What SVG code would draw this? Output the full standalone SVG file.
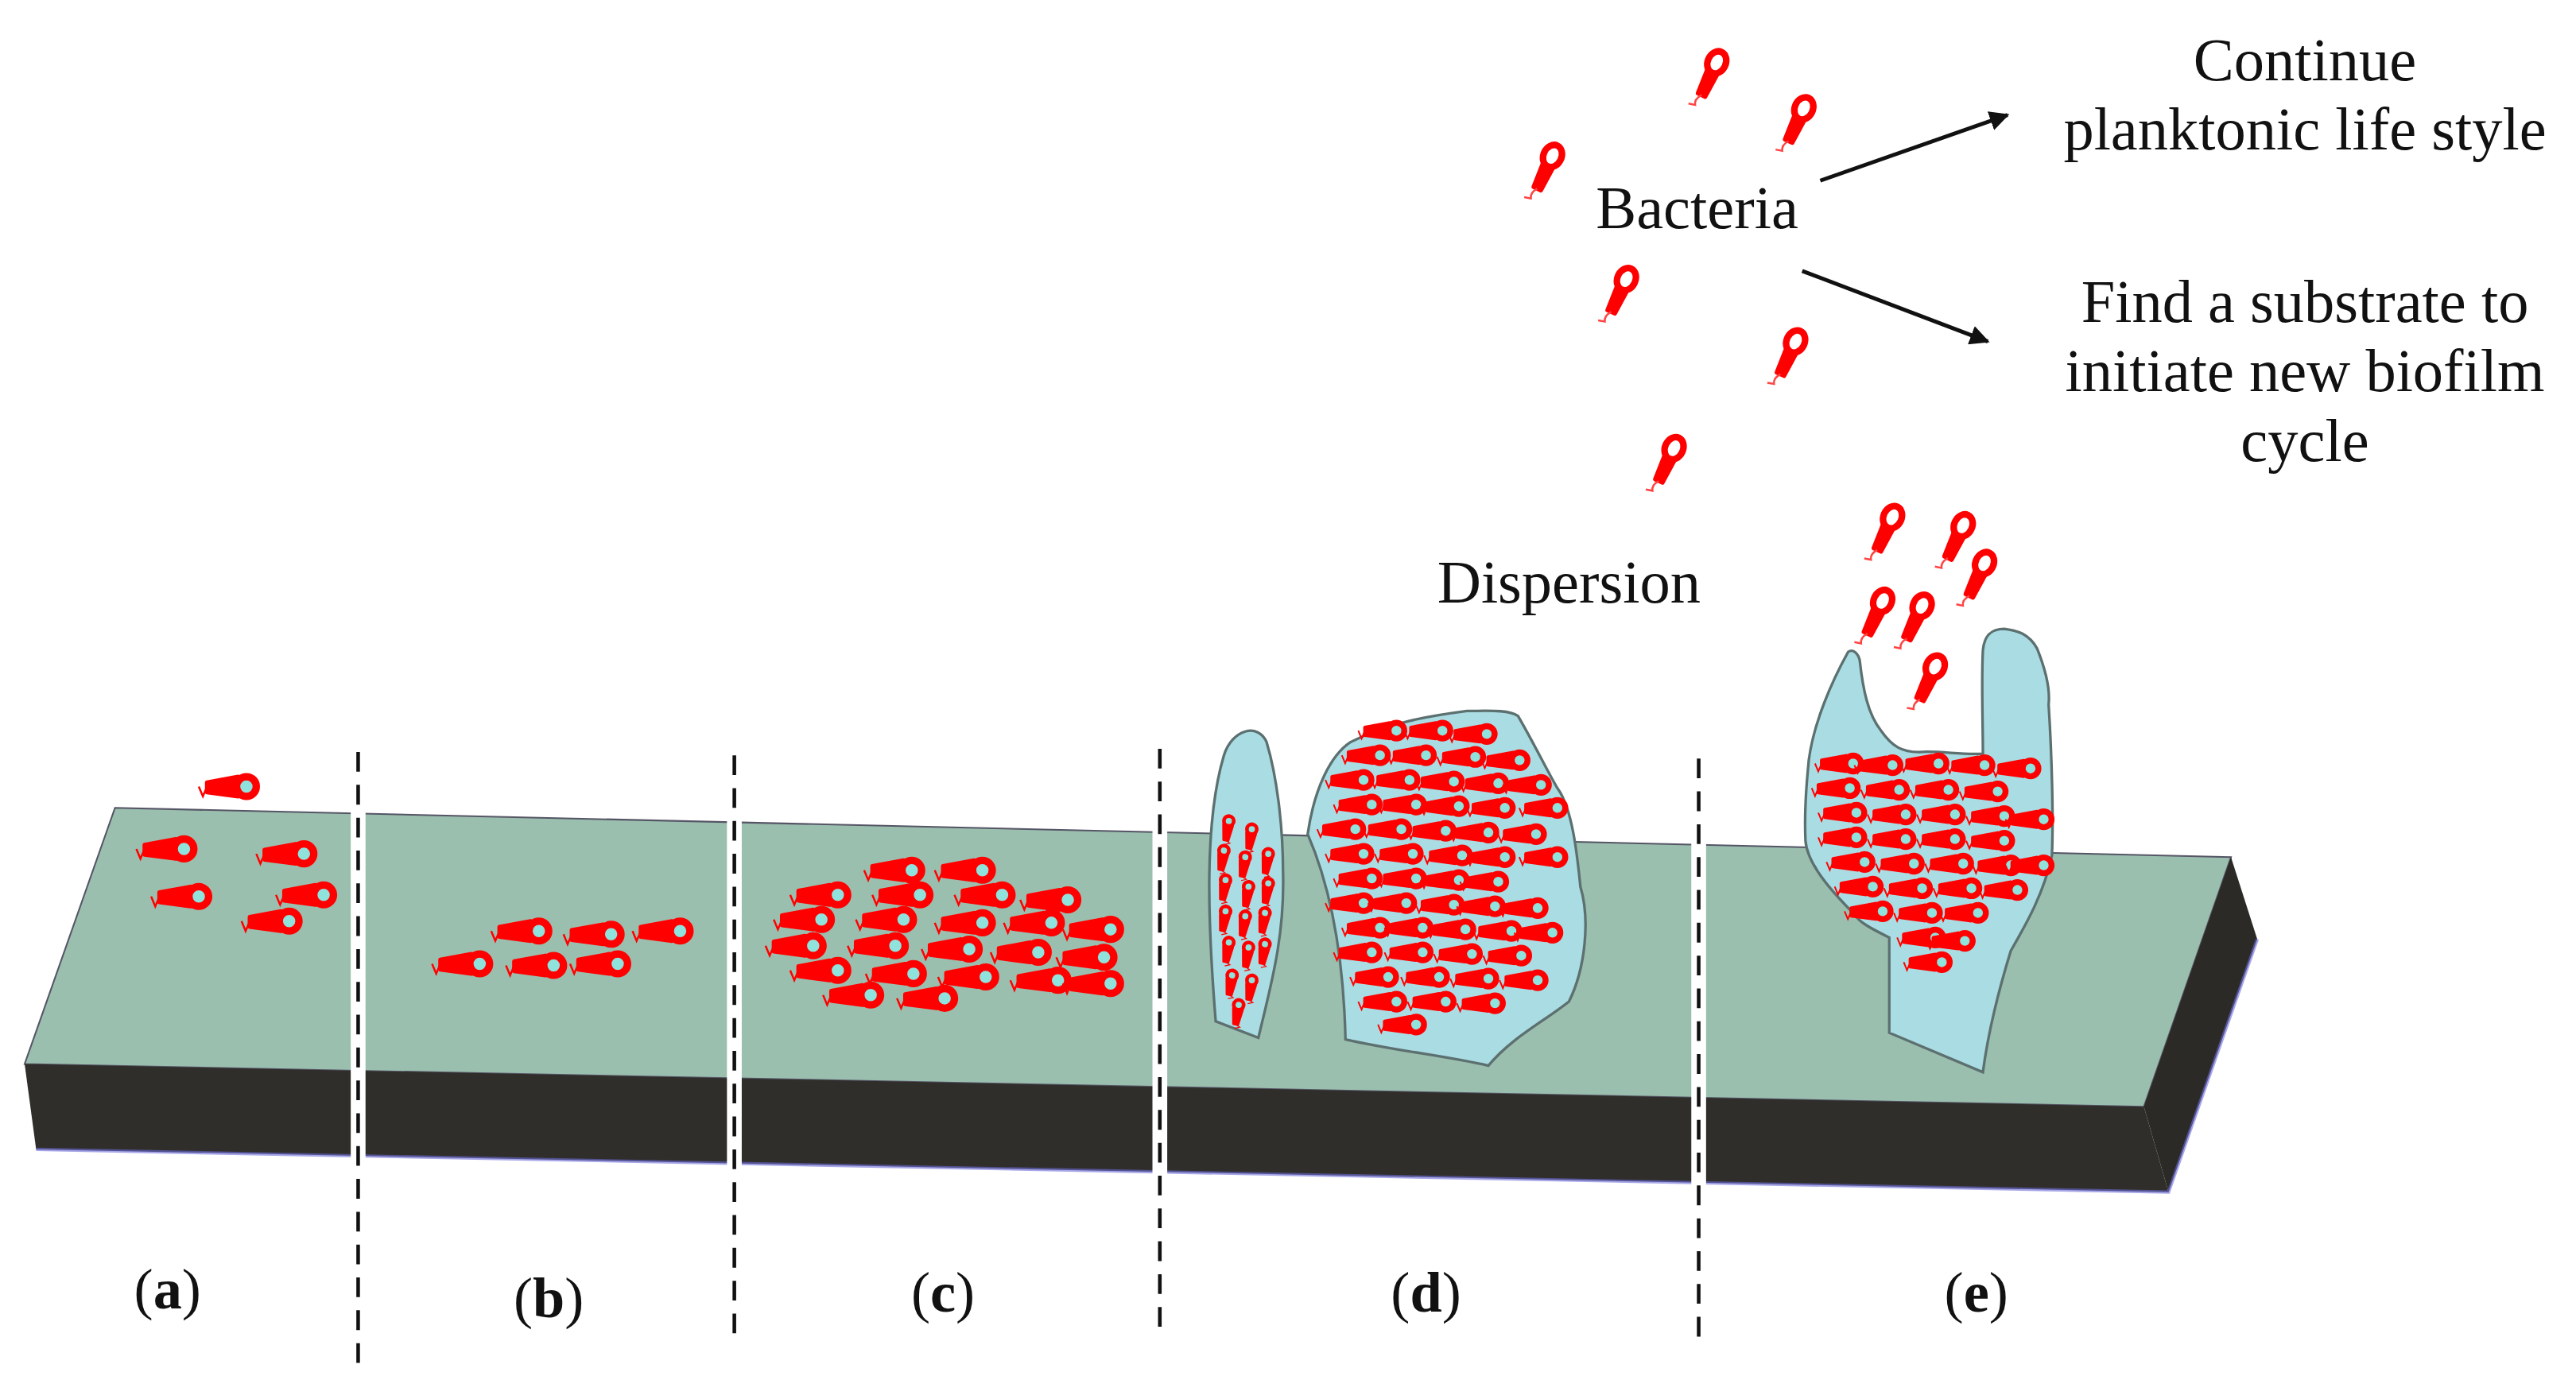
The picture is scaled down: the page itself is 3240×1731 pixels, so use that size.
<svg xmlns="http://www.w3.org/2000/svg" xmlns:xlink="http://www.w3.org/1999/xlink" width="3240" height="1731" viewBox="0 0 3240 1731">
<style>
.t{font-family:"Liberation Serif","DejaVu Serif",serif;font-size:37px;fill:#111;text-anchor:middle}
.lb{font-family:"Liberation Serif","DejaVu Serif",serif;font-size:35px;fill:#111;text-anchor:middle}
.lb tspan.b{font-weight:bold}
.film{fill:#a9dde3;stroke:#5d7070;stroke-width:1.6}
.dash{stroke:#111;stroke-width:2.2;stroke-dasharray:12,8}
.gap{stroke:#fff;stroke-width:9}
.arr{stroke:#111;stroke-width:2.4;fill:none}
</style>
<defs>
<g id="hb">
<path d="M-29,0 l2.5,6 l3,-7" stroke="#f00" stroke-width="1.2" fill="none"/>
<path d="M-24,-2.5 L-5,-6 L-5,6 L-24,3.5 Z" fill="#f00" stroke="#f00" stroke-width="2.5" stroke-linejoin="round"/>
<circle r="6" fill="#8fe3dc" stroke="#f00" stroke-width="4.5"/>
</g>
<g id="fb">
<path d="M-3.5,5 L3.5,5 L2.5,22 L-2.5,22 Z" fill="#f00" stroke="#f00" stroke-width="2.5" stroke-linejoin="round"/>
<path d="M0,22 q-3,4 -1,7 l-4,1" stroke="#f44" stroke-width="1.2" fill="none"/>
<ellipse rx="5.5" ry="7" fill="#fff" stroke="#f00" stroke-width="4"/>
</g>
<marker id="ah" viewBox="0 0 10 10" refX="9" refY="5" markerWidth="5" markerHeight="5" orient="auto"><path d="M0,0 L10,5 L0,10 Z" fill="#111"/></marker>
</defs>
<rect width="3240" height="1731" fill="#fff"/>
<g transform="scale(2.0663,2.0656)">
<g id="slab">
<path d="M70,492 L1358,522 L1305,674 L15,648 Z" fill="#9bbfae" stroke="#556" stroke-width="1"/>
<path d="M15,648 L1305,674 L1320,726 L22,700 Z" fill="#302e2a"/>
<path d="M1305,674 L1358,522 L1374,572 L1320,726 Z" fill="#2b2a26"/>
<path d="M22,700 L1320,726 L1374,572" fill="none" stroke="#6a6ad8" stroke-width="2" opacity="0.6"/>
</g>
<g id="stage-a">
<use xlink:href="#hb" x="150" y="479"/>
<use xlink:href="#hb" x="112" y="517"/>
<use xlink:href="#hb" x="185" y="520"/>
<use xlink:href="#hb" x="121" y="546"/>
<use xlink:href="#hb" x="197" y="545"/>
<use xlink:href="#hb" x="176" y="561"/>
</g>
<g id="stage-b">
<use xlink:href="#hb" x="328" y="567"/>
<use xlink:href="#hb" x="372" y="569"/>
<use xlink:href="#hb" x="414" y="567"/>
<use xlink:href="#hb" x="292" y="587"/>
<use xlink:href="#hb" x="337" y="588"/>
<use xlink:href="#hb" x="376" y="587"/>
</g>
<g id="stage-c">
<use xlink:href="#hb" x="555" y="530"/><use xlink:href="#hb" x="598" y="530"/>
<use xlink:href="#hb" x="510" y="545"/><use xlink:href="#hb" x="560" y="545"/><use xlink:href="#hb" x="610" y="545"/><use xlink:href="#hb" x="650" y="548"/>
<use xlink:href="#hb" x="500" y="560"/><use xlink:href="#hb" x="550" y="560"/><use xlink:href="#hb" x="598" y="562"/><use xlink:href="#hb" x="640" y="562"/><use xlink:href="#hb" x="676" y="566"/>
<use xlink:href="#hb" x="495" y="576"/><use xlink:href="#hb" x="545" y="576"/><use xlink:href="#hb" x="590" y="578"/><use xlink:href="#hb" x="632" y="580"/><use xlink:href="#hb" x="672" y="583"/>
<use xlink:href="#hb" x="510" y="591"/><use xlink:href="#hb" x="556" y="593"/><use xlink:href="#hb" x="600" y="595"/><use xlink:href="#hb" x="644" y="597"/><use xlink:href="#hb" x="676" y="599"/>
<use xlink:href="#hb" x="530" y="606"/><use xlink:href="#hb" x="575" y="608"/>
</g>
<g id="stage-d">
<path class="film" d="M740,622 C735,560 733,500 745,460 C750,444 766,440 771,452 C777,472 781,502 781,532 C782,572 773,602 766,632 Z"/>
<path class="film" d="M819,633 C818,590 812,545 796,508 C800,480 810,460 822,452 C845,440 870,436 893,433 C905,433 918,432 924,436 C935,455 942,470 948,480 C957,492 960,520 962,540 C968,560 965,590 955,610 C940,622 920,632 906,649 C880,643 850,640 819,633 Z"/>
<g id="d1">
<use xlink:href="#hb" transform="translate(748,500) rotate(-80) scale(0.5)"/><use xlink:href="#hb" transform="translate(762,505) rotate(-80) scale(0.5)"/>
<use xlink:href="#hb" transform="translate(745,518) rotate(-80) scale(0.5)"/><use xlink:href="#hb" transform="translate(758,522) rotate(-80) scale(0.5)"/><use xlink:href="#hb" transform="translate(772,520) rotate(-80) scale(0.5)"/>
<use xlink:href="#hb" transform="translate(746,536) rotate(-80) scale(0.5)"/><use xlink:href="#hb" transform="translate(760,540) rotate(-80) scale(0.5)"/><use xlink:href="#hb" transform="translate(772,538) rotate(-80) scale(0.5)"/>
<use xlink:href="#hb" transform="translate(746,555) rotate(-80) scale(0.5)"/><use xlink:href="#hb" transform="translate(758,558) rotate(-80) scale(0.5)"/><use xlink:href="#hb" transform="translate(770,556) rotate(-80) scale(0.5)"/>
<use xlink:href="#hb" transform="translate(748,574) rotate(-80) scale(0.5)"/><use xlink:href="#hb" transform="translate(760,577) rotate(-80) scale(0.5)"/><use xlink:href="#hb" transform="translate(770,575) rotate(-80) scale(0.5)"/>
<use xlink:href="#hb" transform="translate(750,594) rotate(-80) scale(0.5)"/><use xlink:href="#hb" transform="translate(762,597) rotate(-80) scale(0.5)"/>
<use xlink:href="#hb" transform="translate(754,612) rotate(-80) scale(0.5)"/>
</g>
<g id="d2">
<use xlink:href="#hb" transform="translate(850,445) scale(0.8)"/><use xlink:href="#hb" transform="translate(878,445) scale(0.8)"/><use xlink:href="#hb" transform="translate(905,447) scale(0.8)"/>
<use xlink:href="#hb" transform="translate(840,460) scale(0.8)"/><use xlink:href="#hb" transform="translate(868,460) scale(0.8)"/><use xlink:href="#hb" transform="translate(898,461) scale(0.8)"/><use xlink:href="#hb" transform="translate(925,463) scale(0.8)"/>
<use xlink:href="#hb" transform="translate(830,475) scale(0.8)"/><use xlink:href="#hb" transform="translate(858,475) scale(0.8)"/><use xlink:href="#hb" transform="translate(885,476) scale(0.8)"/><use xlink:href="#hb" transform="translate(912,477) scale(0.8)"/><use xlink:href="#hb" transform="translate(938,478) scale(0.8)"/>
<use xlink:href="#hb" transform="translate(835,490) scale(0.8)"/><use xlink:href="#hb" transform="translate(862,490) scale(0.8)"/><use xlink:href="#hb" transform="translate(888,491) scale(0.8)"/><use xlink:href="#hb" transform="translate(916,492) scale(0.8)"/><use xlink:href="#hb" transform="translate(948,492) scale(0.8)"/>
<use xlink:href="#hb" transform="translate(825,505) scale(0.8)"/><use xlink:href="#hb" transform="translate(853,505) scale(0.8)"/><use xlink:href="#hb" transform="translate(880,506) scale(0.8)"/><use xlink:href="#hb" transform="translate(906,507) scale(0.8)"/><use xlink:href="#hb" transform="translate(935,508) scale(0.8)"/>
<use xlink:href="#hb" transform="translate(830,520) scale(0.8)"/><use xlink:href="#hb" transform="translate(860,520) scale(0.8)"/><use xlink:href="#hb" transform="translate(890,521) scale(0.8)"/><use xlink:href="#hb" transform="translate(916,522) scale(0.8)"/><use xlink:href="#hb" transform="translate(948,522) scale(0.8)"/>
<use xlink:href="#hb" transform="translate(835,535) scale(0.8)"/><use xlink:href="#hb" transform="translate(862,535) scale(0.8)"/><use xlink:href="#hb" transform="translate(888,536) scale(0.8)"/><use xlink:href="#hb" transform="translate(912,537) scale(0.8)"/>
<use xlink:href="#hb" transform="translate(830,550) scale(0.8)"/><use xlink:href="#hb" transform="translate(856,550) scale(0.8)"/><use xlink:href="#hb" transform="translate(885,551) scale(0.8)"/><use xlink:href="#hb" transform="translate(910,552) scale(0.8)"/><use xlink:href="#hb" transform="translate(936,553) scale(0.8)"/>
<use xlink:href="#hb" transform="translate(840,565) scale(0.8)"/><use xlink:href="#hb" transform="translate(866,565) scale(0.8)"/><use xlink:href="#hb" transform="translate(892,566) scale(0.8)"/><use xlink:href="#hb" transform="translate(920,567) scale(0.8)"/><use xlink:href="#hb" transform="translate(945,568) scale(0.8)"/>
<use xlink:href="#hb" transform="translate(835,580) scale(0.8)"/><use xlink:href="#hb" transform="translate(866,580) scale(0.8)"/><use xlink:href="#hb" transform="translate(896,581) scale(0.8)"/><use xlink:href="#hb" transform="translate(926,582) scale(0.8)"/>
<use xlink:href="#hb" transform="translate(845,595) scale(0.8)"/><use xlink:href="#hb" transform="translate(876,595) scale(0.8)"/><use xlink:href="#hb" transform="translate(906,596) scale(0.8)"/><use xlink:href="#hb" transform="translate(936,597) scale(0.8)"/>
<use xlink:href="#hb" transform="translate(850,610) scale(0.8)"/><use xlink:href="#hb" transform="translate(880,610) scale(0.8)"/><use xlink:href="#hb" transform="translate(910,611) scale(0.8)"/>
<use xlink:href="#hb" transform="translate(862,624) scale(0.8)"/>
</g>
</g>
<g id="stage-e">
<path class="film" d="M1150,629 C1150,600 1150,585 1150,571 C1140,566 1132,562 1129,557 C1112,540 1100,525 1099,512 C1098,490 1100,475 1101,463 C1104,440 1115,415 1125,397 C1128,395 1131,398 1132,402 C1134,420 1137,435 1145,445 C1152,455 1158,458 1168,458 C1180,457 1195,460 1207,459 C1207,440 1206,415 1207,396 C1208,385 1214,383 1220,383 C1228,384 1235,386 1240,395 C1246,410 1248,420 1247,429 C1249,460 1250,500 1249,521 C1244,545 1232,565 1224,579 C1216,605 1210,630 1207,653 Z"/>
<use xlink:href="#hb" transform="translate(1128,465) scale(0.8)"/><use xlink:href="#hb" transform="translate(1152,466) scale(0.8)"/><use xlink:href="#hb" transform="translate(1180,465) scale(0.8)"/><use xlink:href="#hb" transform="translate(1208,466) scale(0.8)"/><use xlink:href="#hb" transform="translate(1236,468) scale(0.8)"/>
<use xlink:href="#hb" transform="translate(1126,480) scale(0.8)"/><use xlink:href="#hb" transform="translate(1156,481) scale(0.8)"/><use xlink:href="#hb" transform="translate(1186,481) scale(0.8)"/><use xlink:href="#hb" transform="translate(1216,482) scale(0.8)"/>
<use xlink:href="#hb" transform="translate(1130,495) scale(0.8)"/><use xlink:href="#hb" transform="translate(1160,496) scale(0.8)"/><use xlink:href="#hb" transform="translate(1190,496) scale(0.8)"/><use xlink:href="#hb" transform="translate(1220,497) scale(0.8)"/><use xlink:href="#hb" transform="translate(1244,499) scale(0.8)"/>
<use xlink:href="#hb" transform="translate(1130,510) scale(0.8)"/><use xlink:href="#hb" transform="translate(1160,511) scale(0.8)"/><use xlink:href="#hb" transform="translate(1190,511) scale(0.8)"/><use xlink:href="#hb" transform="translate(1220,512) scale(0.8)"/>
<use xlink:href="#hb" transform="translate(1135,525) scale(0.8)"/><use xlink:href="#hb" transform="translate(1165,526) scale(0.8)"/><use xlink:href="#hb" transform="translate(1195,526) scale(0.8)"/><use xlink:href="#hb" transform="translate(1224,527) scale(0.8)"/><use xlink:href="#hb" transform="translate(1244,527) scale(0.8)"/>
<use xlink:href="#hb" transform="translate(1140,540) scale(0.8)"/><use xlink:href="#hb" transform="translate(1170,541) scale(0.8)"/><use xlink:href="#hb" transform="translate(1200,541) scale(0.8)"/><use xlink:href="#hb" transform="translate(1228,542) scale(0.8)"/>
<use xlink:href="#hb" transform="translate(1146,555) scale(0.8)"/><use xlink:href="#hb" transform="translate(1176,556) scale(0.8)"/><use xlink:href="#hb" transform="translate(1204,556) scale(0.8)"/>
<use xlink:href="#hb" transform="translate(1178,571) scale(0.8)"/><use xlink:href="#hb" transform="translate(1196,573) scale(0.8)"/>
<use xlink:href="#hb" transform="translate(1182,586) scale(0.8)"/>
</g>
<g id="free-bacteria">
<use xlink:href="#fb" transform="translate(945,95) rotate(25)"/>
<use xlink:href="#fb" transform="translate(1045,38) rotate(25)"/>
<use xlink:href="#fb" transform="translate(1098,66) rotate(25)"/>
<use xlink:href="#fb" transform="translate(990,170) rotate(25)"/>
<use xlink:href="#fb" transform="translate(1093,208) rotate(25)"/>
<use xlink:href="#fb" transform="translate(1019,273) rotate(25)"/>
<use xlink:href="#fb" transform="translate(1152,315) rotate(25)"/>
<use xlink:href="#fb" transform="translate(1195,320) rotate(25)"/>
<use xlink:href="#fb" transform="translate(1208,343) rotate(25)"/>
<use xlink:href="#fb" transform="translate(1146,366) rotate(25)"/>
<use xlink:href="#fb" transform="translate(1170,369) rotate(25)"/>
<use xlink:href="#fb" transform="translate(1178,406) rotate(25)"/>
</g>
<g id="dividers">
<line class="gap" x1="218" y1="458" x2="218" y2="830"/><line class="dash" x1="218" y1="458" x2="218" y2="830"/>
<line class="gap" x1="447" y1="460" x2="447" y2="820"/><line class="dash" x1="447" y1="460" x2="447" y2="820"/>
<line class="gap" x1="706" y1="456" x2="706" y2="815"/><line class="dash" x1="706" y1="456" x2="706" y2="815"/>
<line class="gap" x1="1034" y1="462" x2="1034" y2="822"/><line class="dash" x1="1034" y1="462" x2="1034" y2="822"/>
</g>
<g id="connectors">
<line class="arr" x1="1108" y1="110" x2="1222" y2="70" marker-end="url(#ah)"/>
<line class="arr" x1="1097" y1="165" x2="1210" y2="208" marker-end="url(#ah)"/>
</g>
<g id="labels">
<text class="t" x="1033" y="139">Bacteria</text>
<text class="t" x="955" y="367">Dispersion</text>
<text class="t" x="1403" y="49">Continue</text>
<text class="t" x="1403" y="91">planktonic life style</text>
<text class="t" x="1403" y="196">Find a substrate to</text>
<text class="t" x="1403" y="238">initiate new biofilm</text>
<text class="t" x="1403" y="281">cycle</text>
<text class="lb" x="102" y="797">(<tspan class="b">a</tspan>)</text>
<text class="lb" x="334" y="802">(<tspan class="b">b</tspan>)</text>
<text class="lb" x="574" y="799">(<tspan class="b">c</tspan>)</text>
<text class="lb" x="868" y="799">(<tspan class="b">d</tspan>)</text>
<text class="lb" x="1203" y="799">(<tspan class="b">e</tspan>)</text>
</g>
</g>
</svg>
